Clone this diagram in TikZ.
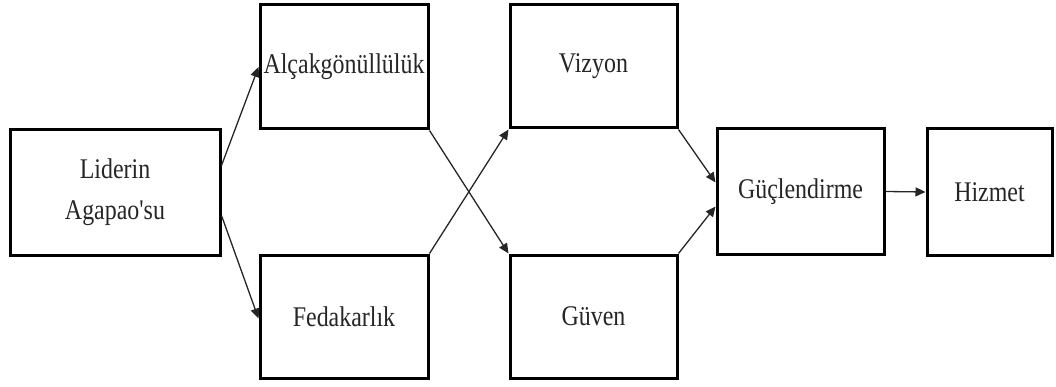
\documentclass[tikz,border=0pt]{standalone}
\usepackage{fontspec}
\setmainfont{Liberation Serif}[Ligatures=TeXOff]
\usetikzlibrary{arrows.meta}
\tikzset{
  boxnode/.style={draw=black, line width=3pt, fill=white, rectangle, align=center, inner sep=0pt,
    font=\fontsize{28.5}{41}\selectfont, text=black!85},
  conn/.style={draw=black!85, line width=1.3pt, -{Triangle[length=10pt,width=9pt]}},
}
\newcommand{\sq}[1]{\scalebox{0.84}[1]{#1}}
\begin{document}
\begin{tikzpicture}[x=1pt,y=-1pt]
\useasboundingbox (0,0) rectangle (1056,387);
\node[boxnode, minimum width=210pt, minimum height=125pt] (lid) at (115,192.5) {\sq{Liderin}\\\sq{Agapao'su}};
\node[boxnode, minimum width=168pt, minimum height=124pt] (alc) at (344,67) {\sq{Alçakgönüllülük}};
\node[boxnode, minimum width=168pt, minimum height=123pt] (fed) at (344,316.5) {\sq{Fedakarlık}};
\node[boxnode, minimum width=167pt, minimum height=123pt] (viz) at (593.5,66.5) {\sq{Vizyon}};
\node[boxnode, minimum width=167pt, minimum height=123pt] (guv) at (593.5,316.5) {\sq{Güven}};
\node[boxnode, minimum width=167pt, minimum height=125pt] (guc) at (800.5,191.5) {\sq{Güçlendirme}};
\node[boxnode, minimum width=125pt, minimum height=126pt] (hiz) at (989.5,192) {\sq{Hizmet}};
\draw[conn] ([yshift=27pt]lid.east) -- (alc.west);
\draw[conn] ([yshift=-23pt]lid.east) -- ([yshift=-2pt]fed.west);
\draw[conn] (alc.south east) -- (guv.north west);
\draw[conn] (fed.north east) -- (viz.south west);
\draw[conn] (viz.south east) -- ([yshift=9pt]guc.west);
\draw[conn] (guv.north east) -- ([yshift=-15pt]guc.west);
\draw[conn] (guc.east) -- (hiz.west);
\end{tikzpicture}
\end{document}
